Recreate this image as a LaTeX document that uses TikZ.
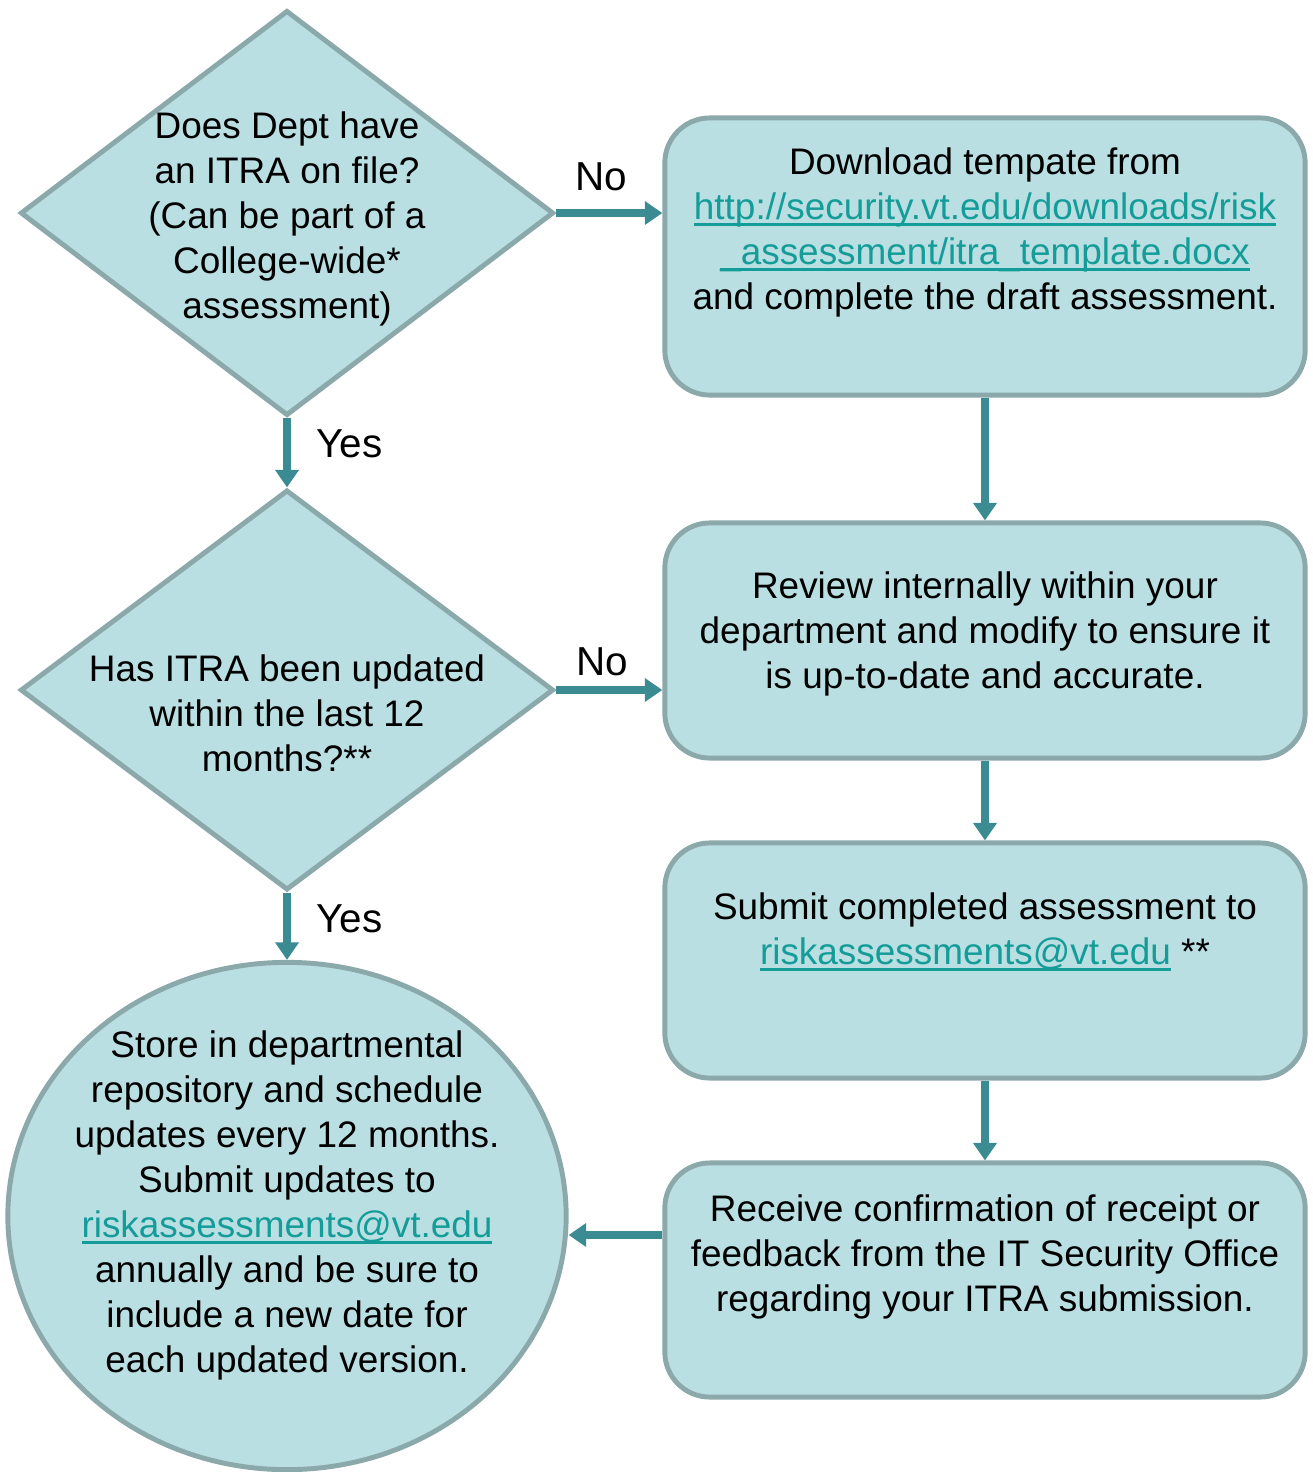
\documentclass[tikz,border=0pt]{standalone}
\usepackage{fontspec}
\setmainfont{Liberation Sans}
\usetikzlibrary{arrows.meta,shapes.geometric}

\definecolor{shapefill}{HTML}{BADFE2}
\definecolor{shapeline}{HTML}{8BA8AA}
\definecolor{flowcol}{HTML}{3B8C92}
\definecolor{linkcol}{HTML}{149C99}

\newsavebox{\linkbox}
\newcommand{\weblink}[1]{%
  \sbox{\linkbox}{\color{linkcol}#1}%
  \textcolor{linkcol}{\rlap{\rule[-2pt]{\wd\linkbox}{0.85pt}}\usebox{\linkbox}}}

\begin{document}
\begin{tikzpicture}[
  x=0.01cm,
  y=-0.01cm,
  bodytext/.style={
    text=black,
    font=\fontsize{10.5}{12.8}\selectfont,
    align=center,
    inner sep=0pt
  },
  shapebase/.style={
    fill=shapefill,
    draw=shapeline,
    line width=1.4pt
  },
  decision/.style={
    shapebase,
    diamond,
    minimum width=5.33cm,
    minimum height=4.05cm,
    inner sep=0pt
  },
  stepbox/.style={
    shapebase,
    rectangle,
    rounded corners=0.45cm,
    minimum width=6.4cm,
    minimum height=2.35cm
  },
  endstate/.style={
    shapebase,
    ellipse,
    minimum width=5.58cm,
    minimum height=5.07cm
  },
  flow/.style={
    draw=flowcol,
    line width=2pt,
    -{Triangle[length=5pt,width=6.5pt]}
  },
  flowlabel/.style={
    text=black,
    font=\fontsize{11.5}{13}\selectfont,
    inner sep=0pt
  }
]

% Canvas
\path[use as bounding box] (0,0) rectangle (1313,1472);

% Decisions
\node[decision] (hasitra) at (287,213) {};
\node[bodytext] (hasitratext) at (287,219)
  {Does Dept have\\ an ITRA on file?\\ (Can be part of a\\ College-wide*\\ assessment)};

\node[decision, minimum height=4cm] (updated) at (287,690) {};
\node[bodytext] (updatedtext) at (287,713)
  {Has ITRA been updated\\ within the last 12\\ months?**};

% Final state
\node[endstate] (store) at (287,1216) {};
\node[bodytext] (storetext) at (287,1205)
  {Store in departmental\\ repository and schedule\\ updates every 12 months.\\
   Submit updates to\\ \weblink{riskassessments@vt.edu}\\ annually and be sure to\\
   include a new date for\\ each updated version.};

% Steps on the right
\node[stepbox, minimum height=2.77cm] (download) at (985,256.5) {};
\node[bodytext] (downloadtext) at (985,232)
  {Download tempate from\\ \weblink{http://security.vt.edu/downloads/risk}\\
   \weblink{\_assessment/itra\_template.docx}\\ and complete the draft assessment.};

\node[stepbox] (review) at (985,640.5) {};
\node[bodytext] (reviewtext) at (985,634)
  {Review internally within your\\ department and modify to ensure it\\
   is up-to-date and accurate.};

\node[stepbox] (submit) at (985,960.5) {};
\node[bodytext] (submittext) at (985,932)
  {Submit completed assessment to\\ \weblink{riskassessments@vt.edu} **};

\node[stepbox, minimum height=2.34cm] (receive) at (985,1280) {};
\node[bodytext] (receivetext) at (985,1257)
  {Receive confirmation of receipt or\\ feedback from the IT Security Office\\
   regarding your ITRA submission.};

% Connectors
\draw[flow] (hasitra.east) -- (hasitra.east -| download.west)
  node[flowlabel, midway, above=0.19cm, xshift=-0.08cm] (nofirst) {No};
\draw[flow] (hasitra.south) -- (updated.north)
  node[flowlabel, midway, right=0.26cm, yshift=0.09cm] (yesfirst) {Yes};
\draw[flow] (updated.east) -- (updated.east -| review.west)
  node[flowlabel, midway, above=0.11cm, xshift=-0.07cm] (nosecond) {No};
\draw[flow] (updated.south) -- (store.north)
  node[flowlabel, midway, right=0.26cm, yshift=0.07cm] (yessecond) {Yes};
\draw[flow] (download.south) -- (review.north);
\draw[flow] (review.south) -- (submit.north);
\draw[flow] (submit.south) -- (receive.north);
\draw[flow] ([yshift=0.45cm]receive.west) -- ([yshift=0.45cm]receive.west -| store.east);

\end{tikzpicture}
\end{document}
